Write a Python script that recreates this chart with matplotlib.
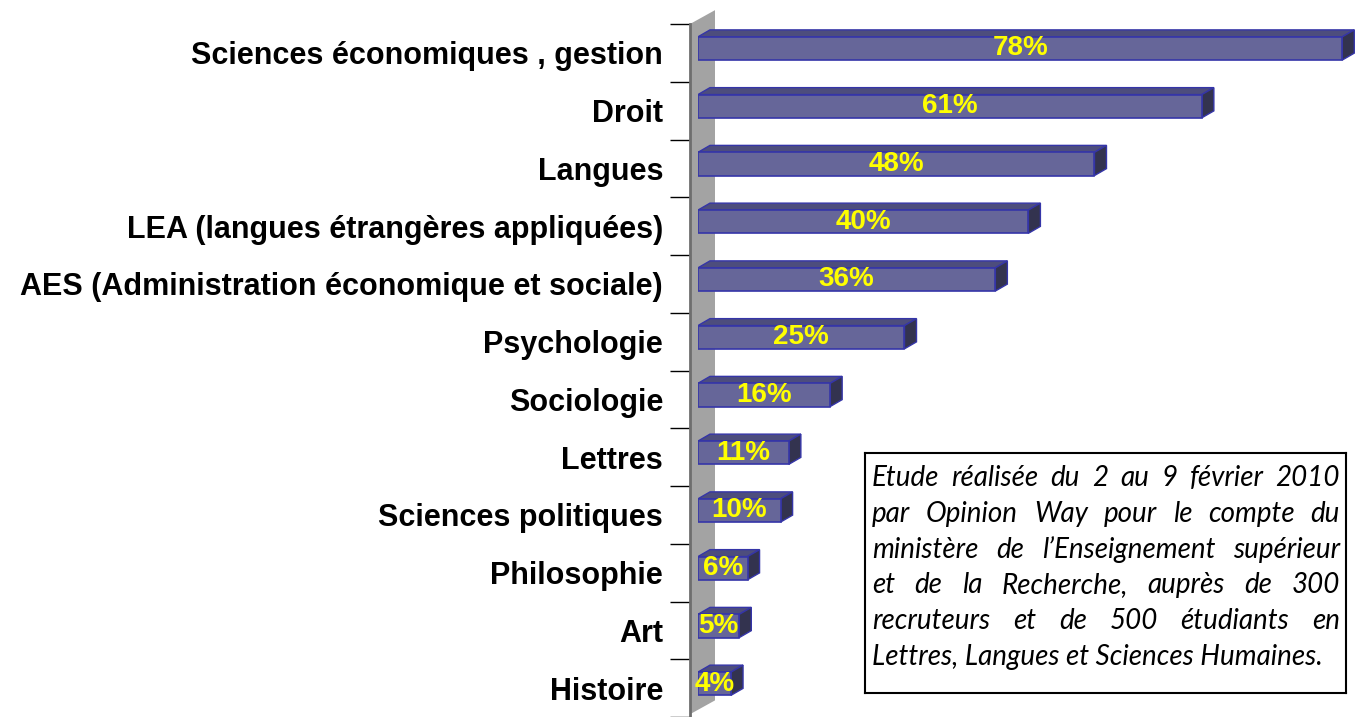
import numpy as np
import matplotlib.pyplot as plt
from matplotlib.patches import Polygon

# data
filieres = ['Sciences économiques , gestion', 'Droit', 'Langues',
            'LEA (langues étrangères appliquées)',
            'AES (Administration économique et sociale)',
            'Psychologie', 'Sociologie', 'Lettres', 'Sciences politiques',
            'Philosophie', 'Art', 'Histoire']
pourcent = [78, 61, 48, 40, 36, 25, 16, 11, 10, 6, 5, 4]

note = ['Etude réalisée du 2 au 9 février 2010',
        'par Opinion Way pour le compte du',
        'ministère de l\u2019Enseignement supérieur',
        'et de la Recherche, auprès de 300',
        'recruteurs et de 500 étudiants en',
        'Lettres, Langues et Sciences Humaines.']

W, H = 1358, 717
PX = 8.26      # pixels per percent
ROW = 58.4     # pixels per category

front = '#666699'
top_c = '#4d4d7d'
side_c = '#33334f'
edge = '#3535a8'

fig = plt.figure(figsize=(W / 100, H / 100), dpi=100)
ax = fig.add_axes([698 / W, 0, 660 / W, (H - 24) / H])
ax.set_xlim(0, 660 / PX)
ax.set_ylim((H - 53.2) / ROW, -0.5)

y = np.arange(len(filieres))
h = 23.5 / ROW
off = -4.5 / ROW
dx, dy = 12 / PX, 7 / ROW

# wall
wall = Polygon([(-8 / PX, -0.5), (17 / PX, -0.5 - 14 / ROW),
                (17 / PX, (708 - 53.2) / ROW), (-8 / PX, (722 - 53.2) / ROW)],
               closed=True, facecolor='#a3a3a3', edgecolor='none',
               clip_on=False, zorder=1)
ax.add_patch(wall)

ax.barh(y + off, pourcent, height=h, color=front, edgecolor=edge,
        linewidth=1.2, zorder=3)
for yi, v in zip(y + off, pourcent):
    t, b = yi - h / 2, yi + h / 2
    ax.add_patch(Polygon([(0, t), (v, t), (v + dx, t - dy), (dx, t - dy)],
                         facecolor=top_c, edgecolor=edge, lw=1, zorder=2))
    ax.add_patch(Polygon([(v, t), (v + dx, t - dy), (v + dx, b - dy), (v, b)],
                         facecolor=side_c, edgecolor=edge, lw=1, zorder=2))
    ax.text(v / 2, yi, f'{v}%', ha='center', va='center', color='#ffff00',
            fontsize=20, fontweight='bold', family='Liberation Sans', zorder=4)

for s in ['top', 'right', 'bottom']:
    ax.spines[s].set_visible(False)
ax.spines['left'].set_position(('data', -8 / PX))
ax.spines['left'].set_color('#6e6e6e')
ax.spines['left'].set_linewidth(2)
ax.spines['left'].set_zorder(2)
ax.set_xticks([])
ax.set_yticks(y)
ax.set_yticklabels(filieres, fontsize=22, fontweight='bold',
                   family='Liberation Sans')
ax.set_yticks(np.arange(-0.5, len(filieres)), minor=True)
ax.tick_params(axis='y', which='major', length=0, pad=19.4)
ax.tick_params(axis='y', which='minor', length=14.4, width=1, color='black')

# text box
bx = fig.add_axes([865 / W, (H - 693) / H, 481 / W, 240 / H])
bx.set_xticks([])
bx.set_yticks([])
for s in bx.spines.values():
    s.set_linewidth(1.5)

renderer = fig.canvas.get_renderer()
x0, x1 = 872, 1340
for k, line in enumerate(note):
    yy = (H - (478 + 35.8 * k)) / H
    kw = dict(fontsize=20, style='italic', family='Lato', va='center',
              transform=fig.transFigure)
    if k == len(note) - 1:
        fig.text(x0 / W, yy, line, **kw)
        continue
    words = line.split()
    txts = [fig.text(0, yy, w_, **kw) for w_ in words]
    widths = [tx.get_window_extent(renderer).width for tx in txts]
    gap = (x1 - x0 - sum(widths)) / (len(words) - 1)
    xp = x0
    for tx, wd in zip(txts, widths):
        tx.set_x(xp / W)
        xp += wd + gap

fig.savefig('out.png', dpi=100)
